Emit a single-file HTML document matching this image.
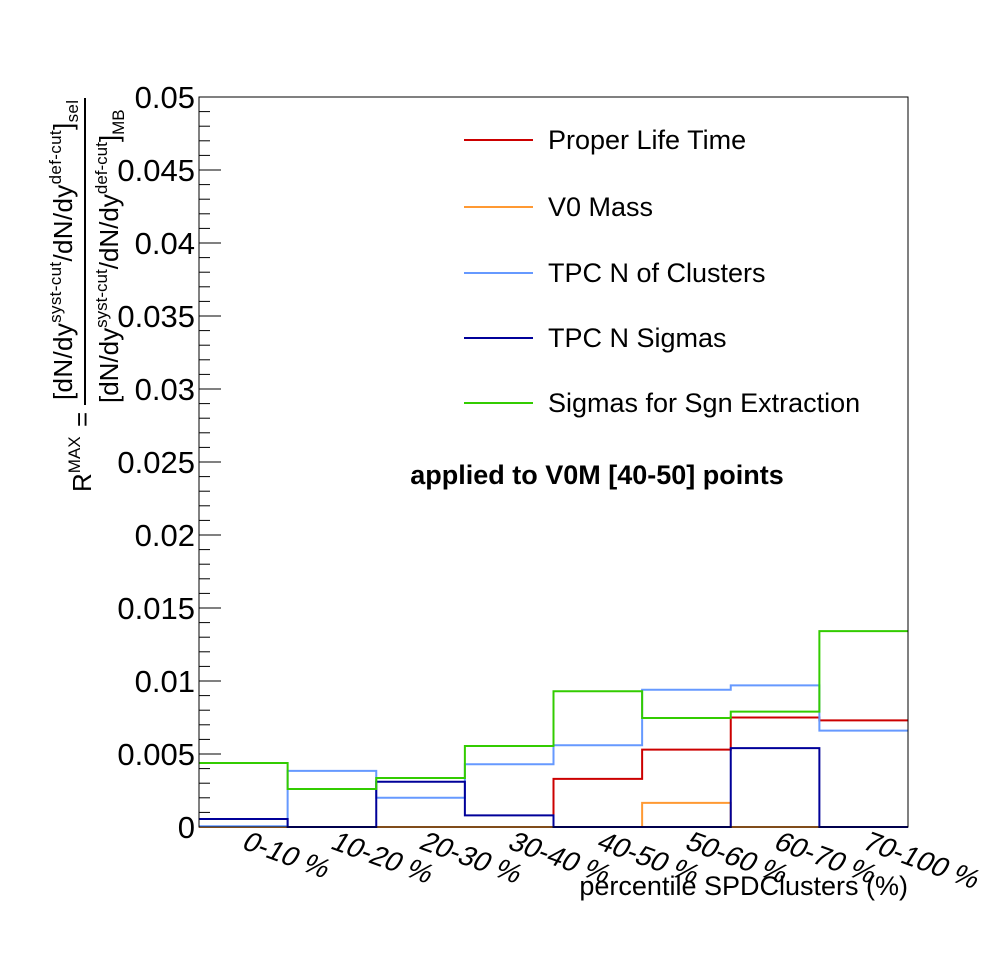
<!DOCTYPE html>
<html><head><meta charset="utf-8"><style>
body{margin:0;background:#fff}
svg text{font-family:"Liberation Sans",sans-serif}
</style></head><body>
<svg id="chart" width="998" height="973" viewBox="0 0 998 973" xmlns="http://www.w3.org/2000/svg">
<rect width="998" height="973" fill="#fff"/>
<g id="axes"></g>
<g id="series"></g>
<rect x="199" y="97" width="709" height="730" fill="none" stroke="#000" stroke-width="1"/>
<g font-size="26">
<text transform="translate(91,492) rotate(-90)">R<tspan font-size="17" dy="-11">MAX</tspan></text>
<text transform="translate(91,427) rotate(-90)">=</text>
<line x1="85" y1="98" x2="85" y2="405" stroke="#000" stroke-width="2"/>
<text transform="translate(72,400) rotate(-90)" textLength="300">[dN/dy<tspan font-size="17" dy="-11">syst-cut</tspan><tspan dy="11">/dN/dy</tspan><tspan font-size="17" dy="-11">def-cut</tspan><tspan dy="11">]</tspan><tspan font-size="17" dy="6">sel</tspan></text>
<text transform="translate(118,403) rotate(-90)">[dN/dy<tspan font-size="17" dy="-11">syst-cut</tspan><tspan dy="11">/dN/dy</tspan><tspan font-size="17" dy="-11">def-cut</tspan><tspan dy="11">]</tspan><tspan font-size="17" dy="6">MB</tspan></text>
</g>
<text x="908" y="895" font-size="27" text-anchor="end">percentile SPDClusters (%)</text>
<text x="597" y="484" font-size="27" font-weight="bold" text-anchor="middle">applied to V0M [40-50] points</text>
<g id="legend"></g>
</svg>
<script>
const categories=["0-10 %","10-20 %","20-30 %","30-40 %","40-50 %","50-60 %","60-70 %","70-100 %"];
const seriesNames=["Proper Life Time","V0 Mass","TPC N of Clusters","TPC N Sigmas","Sigmas for Sgn Extraction"];
const seriesColors=["#cc0000","#ff9933","#6699ff","#000099","#33cc00"];
const properLifeTime=[0,0,0,0,0.0033,0.0053,0.0075,0.0073];
const v0Mass=[0,0,0,0,0,0.00165,0,0];
const tpcNClusters=[0.00005,0.00384,0.002,0.0043,0.0056,0.0094,0.0097,0.0066];
const tpcNSigmas=[0.00055,0,0.0031,0.0008,0,0,0.0054,0];
const sigmasSgn=[0.00438,0.0026,0.00336,0.00555,0.0093,0.00747,0.0079,0.01342];
const yTicks=["0","0.005","0.01","0.015","0.02","0.025","0.03","0.035","0.04","0.045","0.05"];
const NS="http://www.w3.org/2000/svg";
const X0=199,X1=908,Y0=827,Y1=97,YMAX=0.05;
const xs=i=>X0+(X1-X0)*i/categories.length;
const ys=v=>Y0-(Y0-Y1)*v/YMAX;
function mk(t,a,p){const e=document.createElementNS(NS,t);for(const k in a)e.setAttribute(k,a[k]);p.appendChild(e);return e;}
const axes=document.getElementById('axes');
for(let k=0;k<=50;k++){const v=k*0.001,y=ys(v),len=k%5==0?22:11;
const t=mk('line',{x1:X0,x2:X0+len,y1:y,y2:y,stroke:'#000','stroke-width':1},axes);

}
yTicks.forEach((s,i)=>{const t=mk('text',{x:X0-4,y:ys(+s)+11,'font-size':31,'text-anchor':'end'},axes);t.textContent=s;

});
categories.forEach((c,i)=>{const cx=(xs(i)+xs(i+1))/2-3,cy=848;
const t=mk('text',{transform:`translate(${cx},${cy}) rotate(20) skewX(-12)`,'font-size':28},axes);t.textContent=c;

});
const data=[properLifeTime,v0Mass,tpcNClusters,tpcNSigmas,sigmasSgn];
const sg=document.getElementById('series');
data.forEach((arr,s)=>{let d='';arr.forEach((v,i)=>{d+=(i==0?'M':'L')+xs(i)+','+ys(v)+'L'+xs(i+1)+','+ys(v);});
const p=mk('path',{d:d,fill:'none',stroke:seriesColors[s],'stroke-width':2},sg);

});
const lg=document.getElementById('legend');
const ly=[140,207,273,338,403];
seriesNames.forEach((n,i)=>{const l=mk('line',{x1:464,x2:533,y1:ly[i],y2:ly[i],stroke:seriesColors[i],'stroke-width':2},lg);


const t=mk('text',{x:548,y:ly[i]+9,'font-size':27},lg);t.textContent=n;

});
</script>
</body></html>
